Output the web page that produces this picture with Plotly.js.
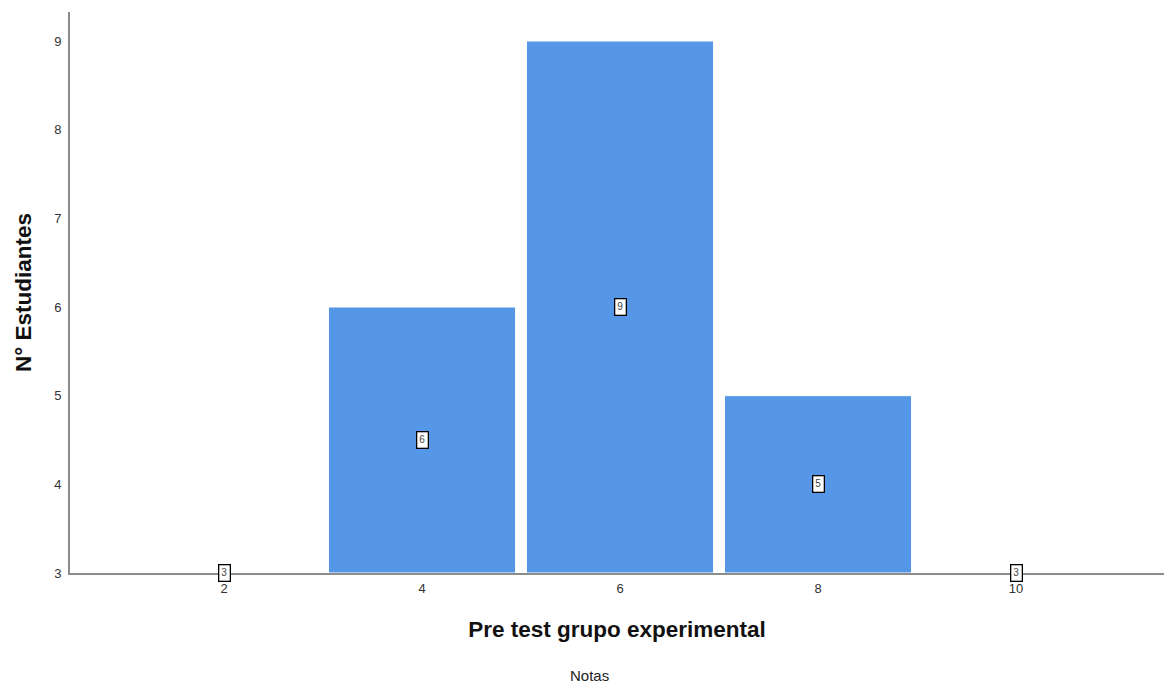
<!DOCTYPE html>
<html>
<head>
<meta charset="utf-8">
<script src="https://cdn.plot.ly/plotly-3.0.1.min.js"></script>
<style>html,body{margin:0;padding:0;background:#fff;}#chart{width:1164px;height:684px;}</style>
</head>
<body>
<div id="chart"></div>
<script>
var notas = [2, 4, 6, 8, 10];
var estudiantes = [3, 6, 9, 5, 3];
var yTicks = [3, 4, 5, 6, 7, 8, 9];
var xTicks = [2, 4, 6, 8, 10];
var baseValue = 3;

var trace = {
  type: 'bar',
  x: notas,
  y: estudiantes.map(function(v){ return v - baseValue; }),
  base: baseValue,
  width: 1.89,
  marker: {color: '#5596e6', line: {color: '#ffffff', width: 1}},
  hoverinfo: 'none'
};

var annotations = notas.map(function(x, i){
  return {
    x: x, y: (estudiantes[i] + baseValue) / 2,
    xref: 'x', yref: 'y',
    text: String(estudiantes[i]),
    showarrow: false,
    font: {family: 'Liberation Sans, Arial, sans-serif', size: 10, color: '#444'},
    bgcolor: '#ffffff',
    bordercolor: '#000000',
    borderwidth: 1.3,
    borderpad: 2
  };
});
annotations.push({
  x: 0.475, y: 0, xref: 'paper', yref: 'paper', yshift: -113,
  text: 'Notas', showarrow: false,
  font: {family: 'Liberation Sans, Arial, sans-serif', size: 15, color: '#222'}
});

var layout = {
  width: 1164, height: 684,
  margin: {l: 70, r: 0, t: 12, b: 111},
  paper_bgcolor: '#ffffff', plot_bgcolor: '#ffffff',
  showlegend: false,
  xaxis: {
    range: [0.444, 11.495],
    tickvals: xTicks, ticktext: xTicks.map(String),
    ticks: '', showgrid: false, zeroline: false,
    showline: true, linecolor: '#8c8c8c', linewidth: 2,
    tickfont: {family: 'Liberation Sans, Arial, sans-serif', size: 13, color: '#333'},
    ticklabelstandoff: 2,
    title: {text: 'Pre test grupo experimental', standoff: 27,
      font: {family: 'Liberation Sans, Arial, sans-serif', size: 22.5, color: '#111', weight: 'bold'}}
  },
  yaxis: {
    range: [3, 9.327],
    tickvals: yTicks, ticktext: yTicks.map(String),
    ticks: '', showgrid: false, zeroline: false,
    showline: true, linecolor: '#8c8c8c', linewidth: 2,
    tickfont: {family: 'Liberation Sans, Arial, sans-serif', size: 13, color: '#333'},
    ticklabelstandoff: 4,
    title: {text: 'N° Estudiantes', standoff: 16,
      font: {family: 'Liberation Sans, Arial, sans-serif', size: 22.5, color: '#111', weight: 'bold'}}
  },
  annotations: annotations
};

Plotly.newPlot('chart', [trace], layout, {displayModeBar: false, staticPlot: true});
</script>
</body>
</html>
